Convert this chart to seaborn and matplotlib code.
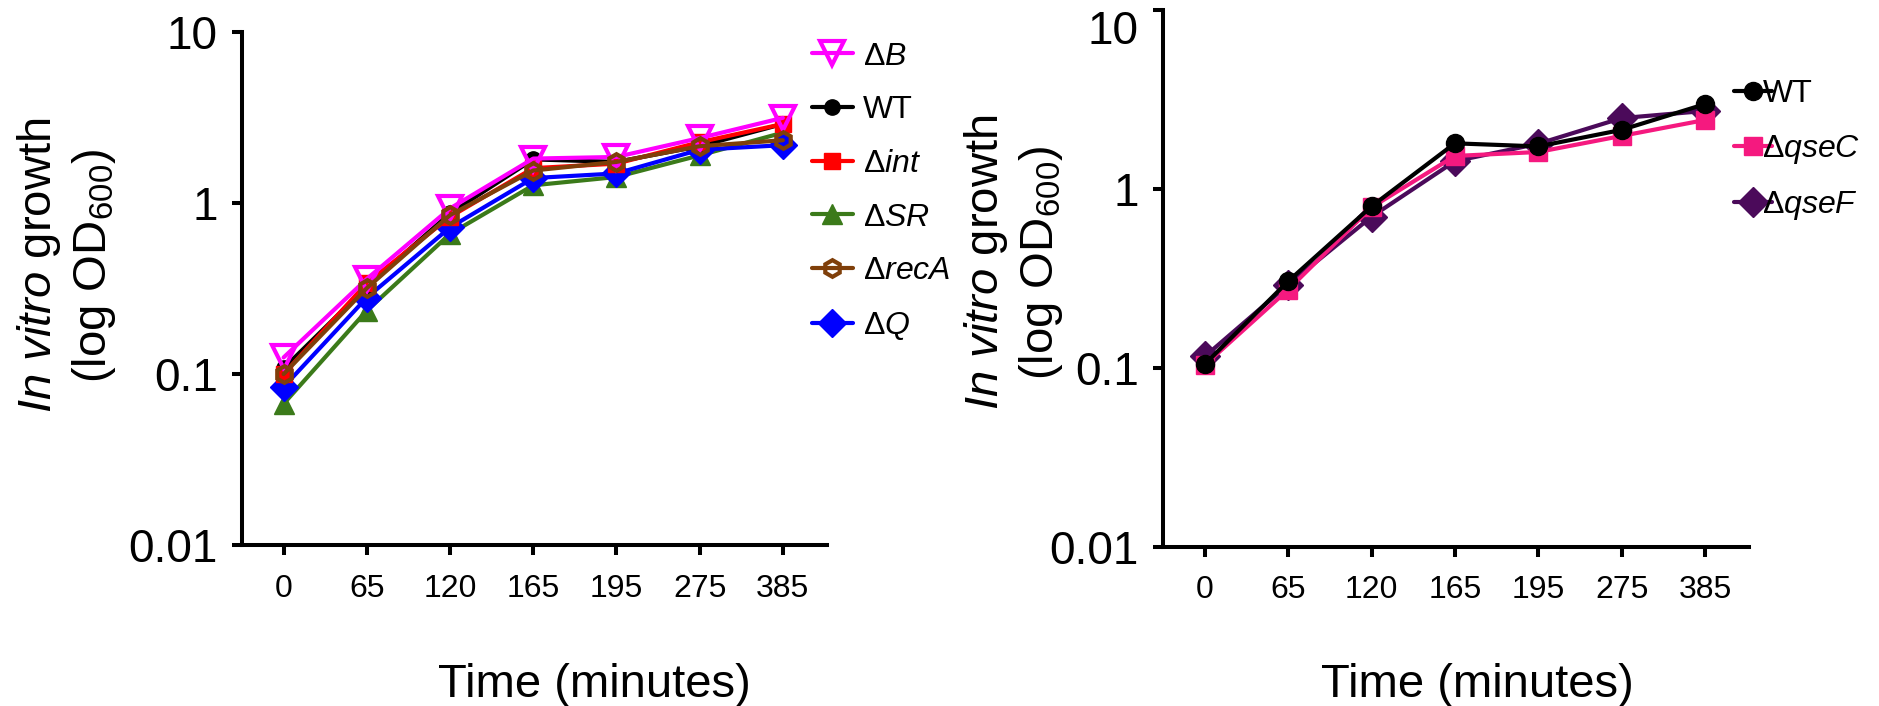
import seaborn as sns
import matplotlib.pyplot as plt
import numpy as np
import pandas as pd

# Time points (minutes), drawn as evenly spaced categories
time_labels = ['0', '65', '120', '165', '195', '275', '385']

# Left panel: OD600 per strain
od_dB = [0.125, 0.36, 0.93, 1.82, 1.86, 2.40, 3.15]
od_wt_left = [0.108, 0.325, 0.87, 1.80, 1.74, 2.15, 2.90]
od_int = [0.100, 0.34, 0.83, 1.60, 1.70, 2.27, 2.90]
od_sr = [0.067, 0.235, 0.66, 1.27, 1.42, 1.90, 2.58]
od_reca = [0.100, 0.318, 0.85, 1.55, 1.74, 2.15, 2.33]
od_q = [0.084, 0.28, 0.72, 1.40, 1.49, 2.05, 2.18]

# Right panel: OD600 per strain
od_wt_right = [0.105, 0.305, 0.80, 1.80, 1.73, 2.14, 2.98]
od_qsec = [0.104, 0.274, 0.79, 1.53, 1.61, 1.98, 2.43]
od_qsef = [0.116, 0.292, 0.70, 1.43, 1.79, 2.49, 2.73]

left_series = [
    # label, values, color, marker, filled, size
    ('Δ$\\mathit{SR}$', od_sr, '#3b7a1a', '^', True, 15),
    ('Δ$\\mathit{Q}$', od_q, '#0000ff', 'D', True, 14),
    ('WT', od_wt_left, 'black', 'o', True, 11),
    ('Δ$\\mathit{int}$', od_int, '#ff0000', 's', True, 12),
    ('Δ$\\mathit{B}$', od_dB, '#ff00ff', 'v', False, 17),
    ('Δ$\\mathit{recA}$', od_reca, '#7f3f0a', 'h', False, 12),
]
left_legend_order = ['Δ$\\mathit{B}$', 'WT', 'Δ$\\mathit{int}$',
                     'Δ$\\mathit{SR}$', 'Δ$\\mathit{recA}$', 'Δ$\\mathit{Q}$']

right_series = [
    ('Δ$\\mathit{qseF}$', od_qsef, '#4b0a5a', 'D', True, 15),
    ('Δ$\\mathit{qseC}$', od_qsec, '#f5197f', 's', True, 13),
    ('WT', od_wt_right, 'black', 'o', True, 13),
]
right_legend_order = ['WT', 'Δ$\\mathit{qseC}$', 'Δ$\\mathit{qseF}$']

sns.set_style("ticks")
plt.rcParams['font.family'] = ['Liberation Sans', 'DejaVu Sans']
plt.rcParams['mathtext.fontset'] = 'custom'
plt.rcParams['mathtext.rm'] = 'Liberation Sans'
plt.rcParams['mathtext.it'] = 'Liberation Sans:italic'
plt.rcParams['mathtext.bf'] = 'Liberation Sans:bold'
plt.rcParams['text.color'] = 'black'
plt.rcParams['axes.labelcolor'] = 'black'
plt.rcParams['axes.edgecolor'] = 'black'
plt.rcParams['xtick.color'] = 'black'
plt.rcParams['ytick.color'] = 'black'

fig = plt.figure(figsize=(18.79, 7.06), dpi=100)
ax1 = fig.add_axes([0.1288, 0.2280, 0.3113, 0.7266])
ax2 = fig.add_axes([0.6190, 0.2252, 0.3119, 0.7606])

ylabel = '$\\mathit{In\\ vitro}$ growth\n(log OD$_{600}$)'


def draw_panel(ax, series, order, legend_anchor, handlelen, textpad,
               ylab_xy, xlab_xy):
    x_pos = np.arange(len(time_labels))
    handles = {}
    for label, vals, color, marker, filled, ms in series:
        df = pd.DataFrame({'x': x_pos, 'od': vals})
        sns.lineplot(data=df, x='x', y='od', ax=ax, color=color,
                     marker=marker, markersize=ms, linewidth=3,
                     mec=color, mew=3 if not filled else 1,
                     mfc=color if filled else 'none', label=label,
                     legend=False)
        handles[label] = ax.lines[-1]

    ax.set_yscale('log')
    ax.set_ylim(0.01, 10)
    ax.set_yticks([0.01, 0.1, 1, 10])
    ax.set_yticklabels(['0.01', '0.1', '1', '10'])
    ax.minorticks_off()
    ax.set_xlim(-0.5, 6.53)
    ax.set_xticks(x_pos)
    ax.set_xticklabels(time_labels)

    sns.despine(ax=ax)
    for side in ['left', 'bottom']:
        ax.spines[side].set_linewidth(2.9)
        ax.spines[side].set_color('black')
    ax.tick_params(axis='both', width=2.9, length=7.5, color='black',
                   labelcolor='black')
    ax.tick_params(axis='y', labelsize=33, pad=10)
    ax.tick_params(axis='x', labelsize=23, pad=13)

    ax.set_xlabel('Time (minutes)', fontsize=34, va='center')
    ax.xaxis.set_label_coords(*xlab_xy)
    ax.set_ylabel(ylabel, fontsize=34, va='center', ha='center')
    ax.yaxis.set_label_coords(*ylab_xy)

    leg = ax.legend([handles[k] for k in order], order,
                    loc='upper left', bbox_to_anchor=legend_anchor,
                    bbox_transform=fig.transFigure, frameon=False,
                    fontsize=23, handlelength=handlelen,
                    handletextpad=textpad, borderpad=0, borderaxespad=0,
                    labelspacing=0.74)
    return leg


draw_panel(ax1, left_series, left_legend_order, (0.432, 0.941), 1.28, 0.31,
           (-0.30, 0.545), (0.602, -0.273))
draw_panel(ax2, right_series, right_legend_order, (0.923, 0.888), 1.19, -0.31,
           (-0.255, 0.53), (0.536, -0.257))

# keep the top tick label of the right panel inside the figure
for lab in ax2.get_yticklabels():
    if lab.get_text() == '10':
        lab.set_va('top')

plt.savefig('out.png', dpi=100)
